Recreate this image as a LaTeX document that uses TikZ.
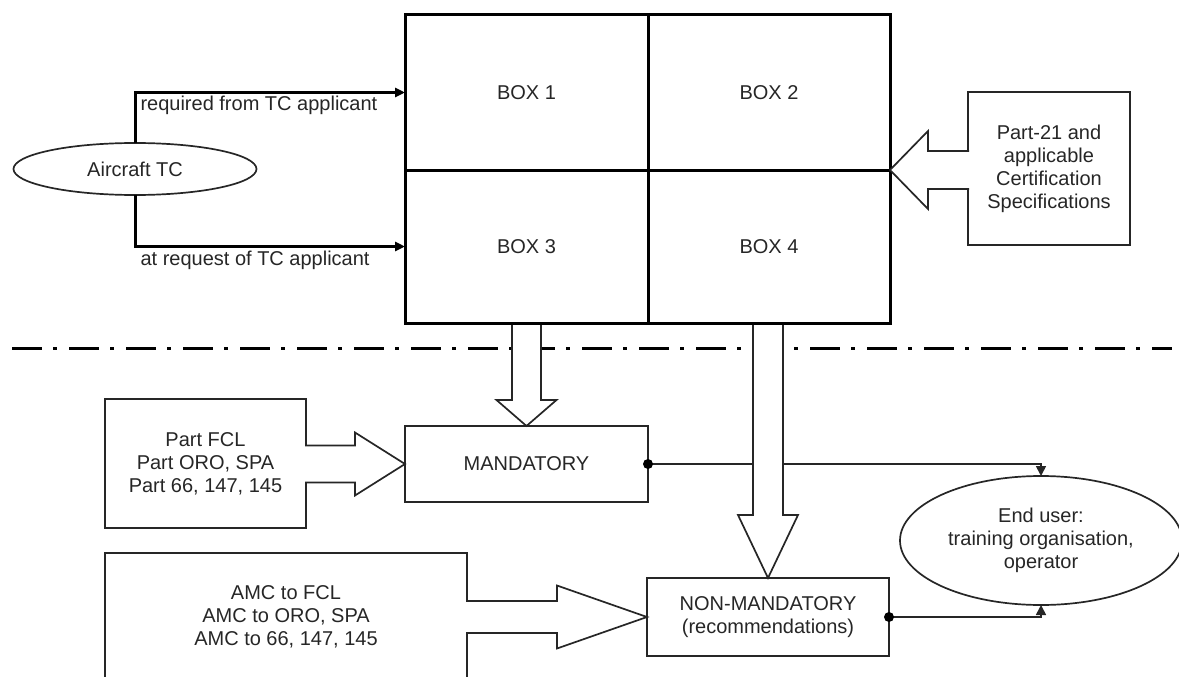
\documentclass[tikz,border=0pt]{standalone}
\usepackage{fontspec}
\setmainfont{Liberation Sans}
\usetikzlibrary{shapes.geometric,arrows.meta,calc}
\pgfdeclarelayer{bg}
\pgfdeclarelayer{mid}
\pgfsetlayers{bg,mid,main}
\begin{document}
\begin{tikzpicture}[x=1pt,y=-1pt,
  every node/.style={font=\fontsize{20}{23}\selectfont, text=black!85},
  gridbox/.style={draw=black, line width=3pt, inner sep=0pt, outer sep=0pt},
  thinbox/.style={draw=black!85, line width=1.7pt, inner sep=0pt, outer sep=0pt, align=center},
  oval/.style={ellipse, draw=black!85, line width=1.7pt, inner sep=0pt, outer sep=0pt, align=center},
  blk/.style={draw=black!85, line width=1.7pt, fill=white, line join=miter},
  feed/.style={draw=black, line width=3pt, -{Triangle[length=10pt,width=9pt]}},
  link/.style={draw=black!85, line width=1.7pt, -{Triangle[length=10pt,width=10pt]}},
  sepline/.style={draw=black, line width=3pt, dash pattern=on 30pt off 11pt on 4pt off 12pt}]
\useasboundingbox (0,0) rectangle (1179,677);

% grid of four boxes
\node[gridbox, minimum width=243pt, minimum height=155pt] (box1) at (526.5,92.5) {BOX 1};
\node[gridbox, minimum width=242pt, minimum height=155pt] (box2) at (769,92.5) {BOX 2};
\node[gridbox, minimum width=243pt, minimum height=153pt] (box3) at (526.5,246.5) {BOX 3};
\node[gridbox, minimum width=242pt, minimum height=153pt] (box4) at (769,246.5) {BOX 4};

% other nodes
\node[oval, minimum width=243pt, minimum height=52pt] (ac) at (135,169) {Aircraft TC};
\node[thinbox, minimum width=162pt, minimum height=153pt] (pt21) at (1049,168.5)
  {Part-21 and\\applicable\\Certification\\Specifications};
\node[thinbox, minimum width=201pt, minimum height=129pt] (fcl) at (205.5,463.5)
  {Part FCL\\Part ORO, SPA\\Part 66, 147, 145};
\node[thinbox, minimum width=243pt, minimum height=76pt] (mand) at (526.5,464) {MANDATORY};
\node[thinbox, minimum width=362pt, minimum height=128pt] (amc) at (286,617)
  {AMC to FCL\\AMC to ORO, SPA\\AMC to 66, 147, 145};
\node[thinbox, minimum width=242pt, minimum height=78pt] (nonm) at (768,617)
  {NON-MANDATORY\\(recommendations)};
\node[oval, minimum width=282pt, minimum height=129pt] (eu) at (1041,540.5)
  {End user:\\training organisation,\\operator};

% labels of the feeds
\node[anchor=west] (lreq) at (137,105) {required from TC applicant};
\node[anchor=west] (lat) at (137,260) {at request of TC applicant};

% feeds from Aircraft TC
\draw[feed] (ac.north) |- (box1.west);
\draw[feed] (ac.south) |- (box3.west);

% separator and thin connectors (behind)
\begin{pgfonlayer}{bg}
  \coordinate (sepL) at (12,348);
  \coordinate (sepR) at (1172,348);
  \draw[sepline] (sepL) -- (sepR);
  \draw[link] (mand.east) -| (eu.north);
  \draw[link] (nonm.east) -| (eu.south);
\end{pgfonlayer}
\fill[black] (mand.east) circle (5);
\fill[black] (nonm.east) circle (5);

% block arrows down from the grid (under the grid lines)
\begin{pgfonlayer}{mid}
  \coordinate (tB) at (mand.north);
  \coordinate (bB) at (tB|-box3.south);
  \draw[blk] ($(bB)+(-14.5,0)$) -- ($(tB)+(-14.5,-26)$) -- ($(tB)+(-30,-26)$) -- (tB)
    -- ($(tB)+(30,-26)$) -- ($(tB)+(14.5,-26)$) -- ($(bB)+(14.5,0)$);
  \coordinate (tC) at (nonm.north);
  \coordinate (bC) at (tC|-box4.south);
  \draw[blk] ($(bC)+(-15,0)$) -- ($(tC)+(-15,-63)$) -- ($(tC)+(-30,-63)$) -- (tC)
    -- ($(tC)+(30,-63)$) -- ($(tC)+(15,-63)$) -- ($(bC)+(15,0)$);
\end{pgfonlayer}

% block arrow from Part-21 box to the grid
\coordinate (tA) at (box2.south east);
\coordinate (bA) at (pt21.west|-tA);
\draw[blk] ($(bA)+(1,-19)$) -- ($(tA)+(38,-19)$) -- ($(tA)+(38,-39)$) -- (tA)
  -- ($(tA)+(38,39)$) -- ($(tA)+(38,19)$) -- ($(bA)+(1,19)$);

% block arrow from Part FCL box to MANDATORY
\coordinate (tD) at (mand.west);
\coordinate (bD) at (fcl.east|-tD);
\draw[blk] ($(bD)+(-1,-18.5)$) -- ($(tD)+(-50,-18.5)$) -- ($(tD)+(-50,-31.5)$) -- (tD)
  -- ($(tD)+(-50,31.5)$) -- ($(tD)+(-50,18.5)$) -- ($(bD)+(-1,18.5)$);

% block arrow from AMC box to NON-MANDATORY
\coordinate (tE) at (nonm.west);
\coordinate (bE) at (amc.east|-tE);
\draw[blk] ($(bE)+(-1,-16)$) -- ($(tE)+(-90,-16)$) -- ($(tE)+(-90,-31.5)$) -- (tE)
  -- ($(tE)+(-90,31.5)$) -- ($(tE)+(-90,16)$) -- ($(bE)+(-1,16)$);
\end{tikzpicture}
\end{document}
